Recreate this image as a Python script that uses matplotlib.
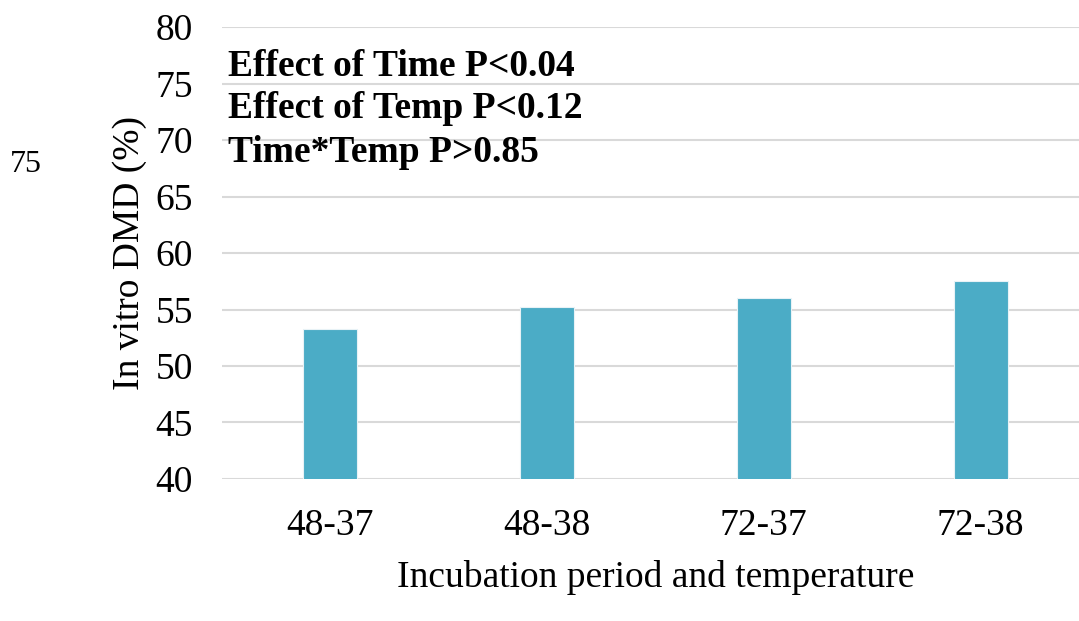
import numpy as np
import matplotlib
matplotlib.use("Agg")
import matplotlib.pyplot as plt

# in vitro DMD by incubation period (h) and temperature (C)
groups = ["48-37", "48-38", "72-37", "72-38"]
dmd = [53.3, 55.2, 56.0, 57.5]
stats_lines = ["Effect of Time P<0.04", "Effect of Temp P<0.12", "Time*Temp P>0.85"]

plt.rcParams['font.family'] = ['Liberation Serif', 'DejaVu Serif']

fig = plt.figure(figsize=(10.79, 6.21), dpi=100)
ax = fig.add_axes([222/1079, 1 - 479/621, 867/1079, 452/621])

x = np.arange(len(groups))
ax.bar(x, dmd, width=0.25, color='#4bacc6', edgecolor='#e8f2f6', linewidth=0.8, zorder=3)

ax.set_ylim(40, 80)
ax.set_yticks(np.arange(40, 81, 5))
ax.set_xlim(-0.5, 3.5)
ax.set_xticks(x)
ax.set_xticklabels(groups)
ax.yaxis.grid(True, color='#d9d9d9', linewidth=1.5, zorder=0)
ax.set_axisbelow(True)
for s in ax.spines.values():
    s.set_visible(False)
ax.tick_params(axis='both', length=0, labelsize=27)
ax.tick_params(axis='y', pad=21)
ax.tick_params(axis='x', pad=21.5)

ax.set_ylabel("In vitro DMD (%)", fontsize=27)
ax.yaxis.set_label_coords(-0.087, 0.5)
ax.set_xlabel("Incubation period and temperature", fontsize=27)
ax.xaxis.set_label_coords(0.5, -0.18)

for i, line in enumerate(stats_lines):
    fig.text(228/1079, 1 - (66 + 43*i)/621, line, fontsize=27, fontweight='bold',
             ha='left', va='center')

fig.text(10/1079, 1 - 164/621, "75", fontsize=23, ha='left', va='center')

fig.savefig("out.png", dpi=100)
